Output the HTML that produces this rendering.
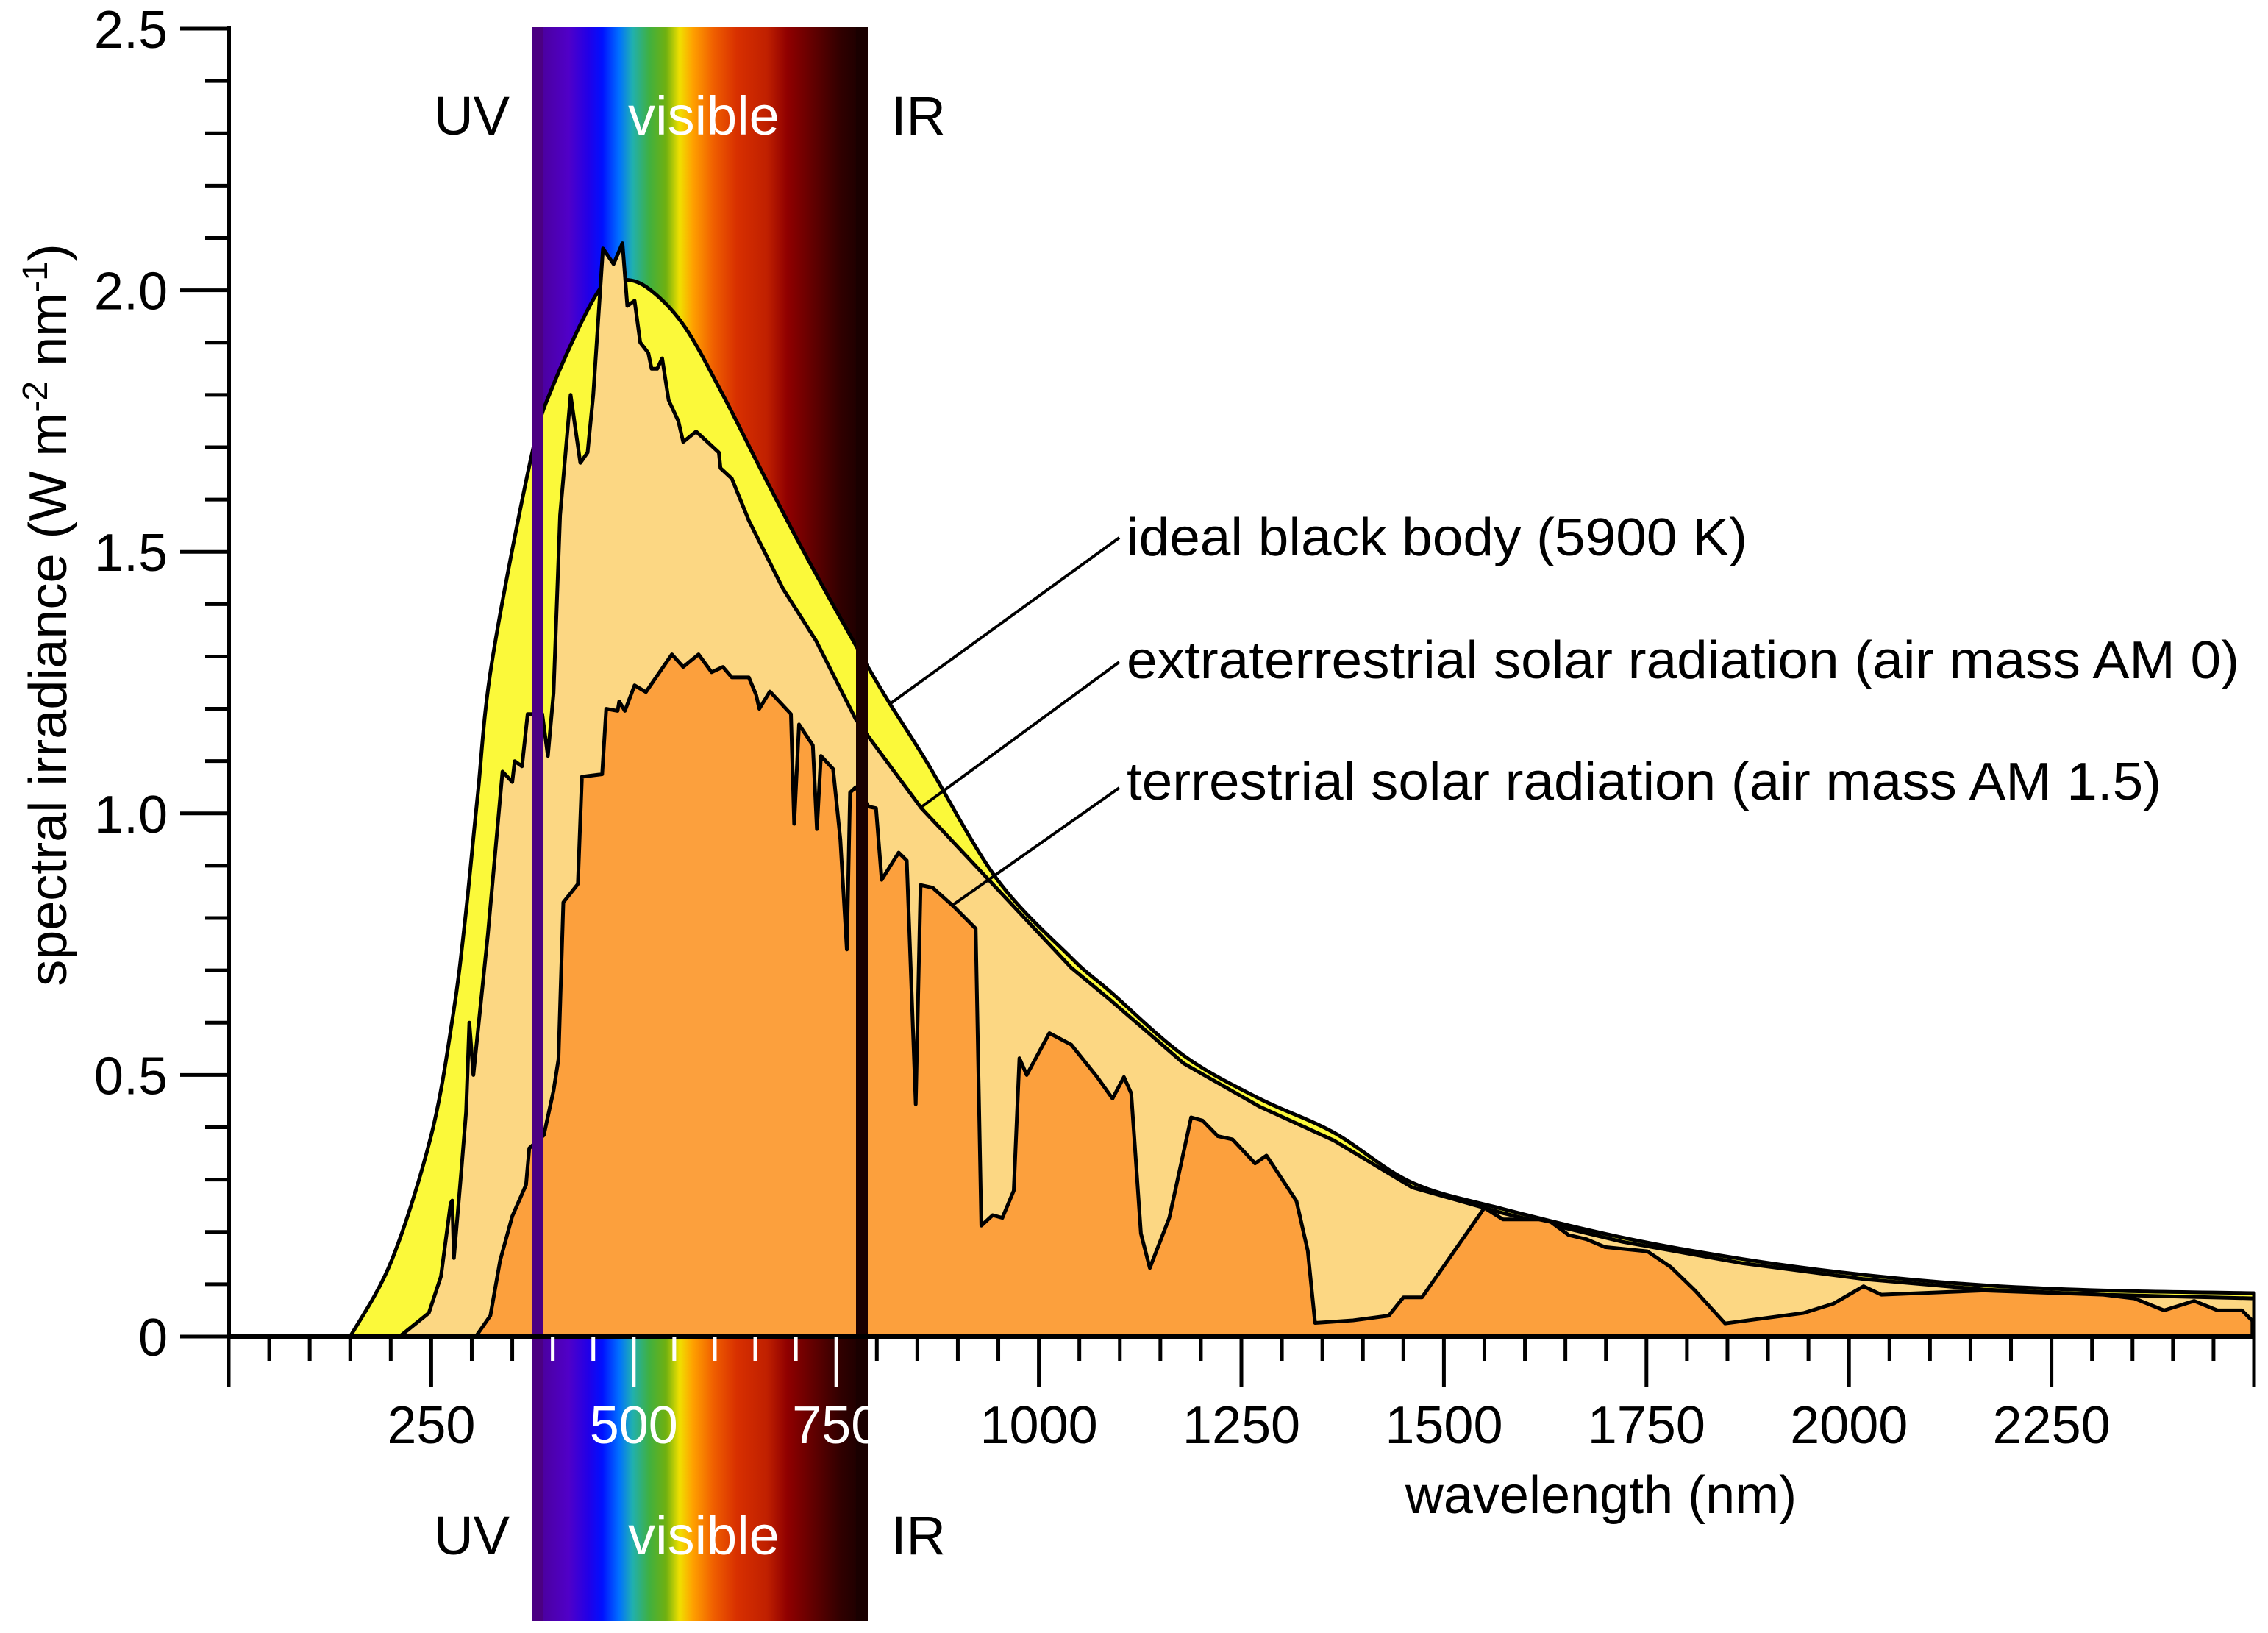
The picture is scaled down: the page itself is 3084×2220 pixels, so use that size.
<!DOCTYPE html>
<html><head><meta charset="utf-8"><title>Solar spectrum</title>
<style>
html,body{margin:0;padding:0;background:#fff;}
svg{display:block;}
text{font-family:"Liberation Sans",Arial,sans-serif;}
</style></head>
<body>
<svg id="chart" width="3084" height="2220" viewBox="0 0 3084 2220" xmlns="http://www.w3.org/2000/svg">
<defs>
<linearGradient id="spec" x1="0" x2="1" y1="0" y2="0">
<stop offset="0" stop-color="#4a0090"/><stop offset="0.11" stop-color="#5000c8"/>
<stop offset="0.17" stop-color="#2000e8"/><stop offset="0.21" stop-color="#0010ff"/>
<stop offset="0.26" stop-color="#0070ff"/><stop offset="0.30" stop-color="#20b0b0"/>
<stop offset="0.35" stop-color="#40b040"/><stop offset="0.40" stop-color="#70b010"/>
<stop offset="0.44" stop-color="#f0e000"/><stop offset="0.48" stop-color="#ffa000"/>
<stop offset="0.54" stop-color="#f06000"/><stop offset="0.61" stop-color="#d83000"/>
<stop offset="0.70" stop-color="#c02000"/><stop offset="0.76" stop-color="#900000"/>
<stop offset="0.84" stop-color="#600000"/><stop offset="0.92" stop-color="#300000"/>
<stop offset="1" stop-color="#150000"/>
</linearGradient>
</defs>
<rect x="723" y="37" width="457" height="2167" fill="url(#spec)"/>
<g id="series"></g>
<rect x="723" y="37" width="15" height="2167" fill="#4b0082"/>
<rect x="1164" y="37" width="16" height="2167" fill="#1a0000"/>
<g id="axes"></g>
<text x="693" y="183" font-size="74" text-anchor="end">UV</text>
<text x="957" y="183" font-size="74" text-anchor="middle" fill="#fff">visible</text>
<text x="1212" y="183" font-size="74">IR</text>
<text x="693" y="2113" font-size="74" text-anchor="end">UV</text>
<text x="957" y="2113" font-size="74" text-anchor="middle" fill="#fff">visible</text>
<text x="1212" y="2113" font-size="74">IR</text>
<text x="2177" y="2057" font-size="72" text-anchor="middle">wavelength (nm)</text>
<text transform="translate(90,836) rotate(-90)" font-size="72" text-anchor="middle">spectral irradiance (W m<tspan font-size="48" dy="-26">-2</tspan><tspan dy="26"> nm</tspan><tspan font-size="48" dy="-26">-1</tspan><tspan dy="26">)</tspan></text>
<g>
<line x1="1522" y1="731" x2="1210" y2="957" stroke="#000" stroke-width="4"/>
<line x1="1522" y1="900" x2="1253" y2="1097" stroke="#000" stroke-width="4"/>
<line x1="1522" y1="1071" x2="1296" y2="1230" stroke="#000" stroke-width="4"/>
<text x="1532" y="755" font-size="72" textLength="844" lengthAdjust="spacingAndGlyphs">ideal black body (5900 K)</text>
<text x="1532" y="922" font-size="72" textLength="1513" lengthAdjust="spacingAndGlyphs">extraterrestrial solar radiation (air mass AM 0)</text>
<text x="1532" y="1087" font-size="72" textLength="1407" lengthAdjust="spacingAndGlyphs">terrestrial solar radiation (air mass AM 1.5)</text>
</g>
</svg>
<script>
const bbNm = [150,201,250,277,292,307,325,374,401,457,489,521,563,610,656,703,749,789,816,861,948,1040,1087,1179,1272,1364,1461,1573,1721,1869,2018,2166,2314,2500];
const bbVal = [0,0.145,0.385,0.615,0.80,1.03,1.29,1.685,1.82,2.00,2.02,2.0,1.93,1.80,1.66,1.52,1.39,1.28,1.21,1.10,0.875,0.724,0.661,0.537,0.455,0.39,0.294,0.244,0.189,0.148,0.118,0.098,0.088,0.083];
const am0Nm = [211,247,262,274,276,278,287,293,297,302,320,338,350,353,362,369,387,394,401,409,422,434,443,450,462,475,486,492,501,508,518,522,529,535,543,555,561,577,605,607,621,642,684,725,774,789,855,943,1040,1087,1179,1272,1364,1461,1573,1721,1869,2018,2166,2314,2500];
const am0Val = [0,0.045,0.115,0.255,0.26,0.15,0.315,0.43,0.60,0.50,0.77,1.08,1.06,1.10,1.09,1.19,1.19,1.11,1.23,1.57,1.80,1.67,1.69,1.80,2.08,2.05,2.09,1.97,1.98,1.90,1.88,1.85,1.85,1.87,1.79,1.75,1.71,1.73,1.69,1.66,1.64,1.56,1.43,1.33,1.18,1.148,1.01,0.865,0.705,0.645,0.522,0.44,0.375,0.285,0.236,0.181,0.14,0.11,0.09,0.08,0.073];
const am15Nm = [305,323,335,350,367,371,389,401,407,413,431,436,461,466,480,482,489,501,515,547,561,580,596,610,621,642,651,655,668,694,698,704,721,726,731,746,755,763,767,774,790,799,806,827,837,848,854,869,895,922,929,943,955,969,976,985,1013,1040,1072,1091,1105,1114,1126,1137,1161,1188,1202,1221,1239,1267,1281,1318,1332,1341,1388,1432,1450,1473,1550,1573,1617,1632,1654,1676,1699,1751,1780,1810,1847,1944,1981,2018,2040,2166,2314,2352,2389,2426,2455,2485,2498];
const am15Val = [0,0.04,0.145,0.23,0.29,0.36,0.385,0.47,0.53,0.83,0.865,1.07,1.075,1.20,1.196,1.214,1.196,1.245,1.232,1.304,1.28,1.304,1.27,1.28,1.26,1.26,1.227,1.2,1.233,1.19,0.98,1.17,1.13,0.97,1.11,1.085,0.95,0.74,1.04,1.05,1.013,1.01,0.873,0.925,0.91,0.444,0.863,0.858,0.822,0.78,0.212,0.232,0.227,0.279,0.532,0.50,0.58,0.558,0.496,0.455,0.496,0.465,0.197,0.131,0.227,0.419,0.413,0.383,0.377,0.331,0.346,0.259,0.164,0.026,0.031,0.04,0.075,0.075,0.246,0.224,0.224,0.219,0.194,0.186,0.171,0.163,0.133,0.088,0.025,0.045,0.063,0.096,0.08,0.088,0.08,0.073,0.05,0.068,0.05,0.05,0.03];
const xTickLabels = [250,500,750,1000,1250,1500,1750,2000,2250];
const yTickLabels = ["0","0.5","1.0","1.5","2.0","2.5"];

const NS = "http://www.w3.org/2000/svg";
const X0 = 311, PXNM = 1.1016, Y0 = 1817, PXV = 711.2;
function xs(nm){ return X0 + nm * PXNM; }
function ys(v){ return Y0 - v * PXV; }

const series = document.getElementById('series');
function drawArea(nms, vals, fill, name, smooth){
  const pts = nms.map(function(n, i){ return [xs(n), ys(vals[i])]; });
  let d = 'M' + pts[0][0].toFixed(1) + ',' + ys(0).toFixed(1) + ' L' + pts[0][0].toFixed(1) + ',' + pts[0][1].toFixed(1);
  for (let i = 1; i < pts.length; i++){
    if (smooth){
      const p0 = pts[Math.max(0, i-2)], p1 = pts[i-1], p2 = pts[i], p3 = pts[Math.min(pts.length-1, i+1)];
      const c1x = p1[0] + (p2[0]-p0[0])/6, c1y = p1[1] + (p2[1]-p0[1])/6;
      const c2x = p2[0] - (p3[0]-p1[0])/6, c2y = p2[1] - (p3[1]-p1[1])/6;
      d += ' C' + c1x.toFixed(1) + ',' + c1y.toFixed(1) + ' ' + c2x.toFixed(1) + ',' + c2y.toFixed(1) + ' ' + p2[0].toFixed(1) + ',' + p2[1].toFixed(1);
    } else {
      d += ' L' + pts[i][0].toFixed(1) + ',' + pts[i][1].toFixed(1);
    }
  }
  d += ' L' + pts[pts.length-1][0].toFixed(1) + ',' + ys(0).toFixed(1) + ' Z';
  const p = document.createElementNS(NS, 'path');
  p.setAttribute('d', d);
  p.setAttribute('fill', fill);
  p.setAttribute('stroke', '#000');
  p.setAttribute('stroke-width', '5');
  p.setAttribute('stroke-linejoin', 'round');
  
  
  series.appendChild(p);
}
drawArea(bbNm, bbVal, '#fbf93a', 'black-body-area', true);
drawArea(am0Nm, am0Val, '#fcd783', 'am0-area', false);
drawArea(am15Nm, am15Val, '#fca03d', 'am15-area', false);

const axes = document.getElementById('axes');
function line(x1,y1,x2,y2,color,w,name){
  const l = document.createElementNS(NS,'line');
  l.setAttribute('x1',x1); l.setAttribute('y1',y1); l.setAttribute('x2',x2); l.setAttribute('y2',y2);
  l.setAttribute('stroke',color); l.setAttribute('stroke-width',w);
  
  
  axes.appendChild(l);
}
line(X0, 36, X0, Y0+2, '#000', 6, 'y-axis-line');
line(X0-3, Y0, xs(2500), Y0, '#000', 6, 'x-axis-line');
for (let i = 0; i <= 25; i++){
  const v = i * 0.1, y = ys(v);
  const major = (i % 5 === 0);
  line(major ? 245 : 279, y, X0, y, '#000', 5, major ? 'y-major-tick' : 'y-minor-tick');
}
yTickLabels.forEach(function(lab){
  const t = document.createElementNS(NS,'text');
  t.setAttribute('x', 228); t.setAttribute('y', ys(parseFloat(lab)) + 26);
  t.setAttribute('font-size', '72'); t.setAttribute('text-anchor', 'end');
  t.textContent = lab;
  
  
  axes.appendChild(t);
});
function inBand(x){ return x > 738 && x < 1164; }
for (let nm = 0; nm <= 2500; nm += 50){
  const x = xs(nm), major = (nm % 250 === 0);
  line(x, Y0, x, major ? 1885 : 1850, inBand(x) ? '#fff' : '#000', 5, major ? 'x-major-tick' : 'x-minor-tick');
}
xTickLabels.forEach(function(v){
  const t = document.createElementNS(NS,'text');
  const x = xs(v);
  t.setAttribute('x', x); t.setAttribute('y', 1962);
  t.setAttribute('font-size', '72'); t.setAttribute('text-anchor', 'middle');
  t.setAttribute('fill', (x > 723 && x < 1180) ? '#fff' : '#000');
  t.textContent = v;
  
  
  axes.appendChild(t);
});
</script>
</body></html>
